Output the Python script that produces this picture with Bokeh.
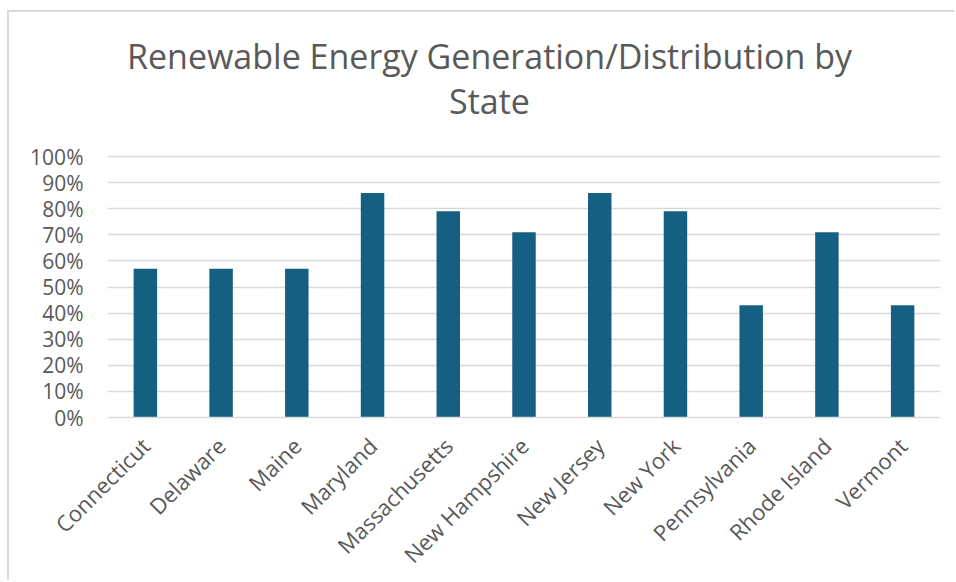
import math

from bokeh.core.properties import value
from bokeh.embed import file_html
from bokeh.models import NumeralTickFormatter, FixedTicker
from bokeh.plotting import figure
from bokeh.resources import INLINE

# Share of renewable generation/distribution criteria met, by state
states = [
    "Connecticut", "Delaware", "Maine", "Maryland", "Massachusetts",
    "New Hampshire", "New Jersey", "New York", "Pennsylvania",
    "Rhode Island", "Vermont",
]
shares = [0.57, 0.57, 0.57, 0.86, 0.79, 0.71, 0.86, 0.79, 0.43, 0.71, 0.43]
y_ticks = [0.0, 0.1, 0.2, 0.3, 0.4, 0.5, 0.6, 0.7, 0.8, 0.9, 1.0]

title_lines = ["Renewable Energy Generation/Distribution by", "State"]

BAR = "#156082"
GRID = "#d9d9d9"
TEXT = "#595959"
FONT = "Open Sans"

# Plot geometry in pixels: the frame runs from the top of the chart box down to
# the 0% line; the value axis occupies the lower 261px (0%..100%), and the space
# above 100% holds the two-line title.
PX_PER_UNIT = 261.0
HEADROOM = 144.0
FRAME_W = 947 - 98 - 16
Y_TOP = 1 + HEADROOM / PX_PER_UNIT

# the chart sits inside a light frame offset 8px from the left, 11px from the top
p = figure(
    width=947, height=570, title=None,
    x_range=states, y_range=(0, Y_TOP),
    output_backend="svg", toolbar_location=None,
    min_border_left=98, min_border_right=16,
    min_border_top=0, min_border_bottom=165,
    background_fill_color="white", border_fill_color="white",
    styles={
        "margin-left": "7px", "margin-top": "10px",
        "border-left": "2px solid #d9d9d9", "border-top": "2px solid #d9d9d9",
    },
)
p.outline_line_color = None

p.vbar(x=states, top=shares, width=0.31, color=BAR, line_color=None)

# axes
p.yaxis.ticker = FixedTicker(ticks=y_ticks)
p.yaxis.formatter = NumeralTickFormatter(format="0%")
p.yaxis.axis_line_color = None
p.yaxis.major_tick_line_color = None
p.yaxis.minor_tick_line_color = None
p.yaxis.major_label_text_font = FONT
p.yaxis.major_label_text_font_size = "21px"
p.yaxis.major_label_text_color = TEXT
p.yaxis.major_label_standoff = 18

p.xaxis.axis_line_color = GRID
p.xaxis.axis_line_width = 1.5
p.xaxis.major_tick_line_color = None
p.xaxis.minor_tick_line_color = None
p.xaxis.major_label_orientation = math.pi / 4
p.xaxis.major_label_text_font = FONT
p.xaxis.major_label_text_font_size = "22px"
p.xaxis.major_label_text_color = TEXT
p.xaxis.major_label_standoff = 18

p.xgrid.grid_line_color = None
p.ygrid.grid_line_color = GRID
p.ygrid.grid_line_width = 1.5

# chart title, centred over the whole chart box (34.5px left of the frame centre);
# the two lines sit 101px and 56px above the 100% line
cat_px = FRAME_W / len(states)
title_x = len(states) / 2 - 34.5 / cat_px
title_rise = [101.0, 56.0]
p.text(
    x=[title_x] * len(title_lines),
    y=[1 + r / PX_PER_UNIT for r in title_rise],
    text=title_lines,
    text_align="center", text_baseline="alphabetic",
    text_font=value(FONT), text_font_size="34px", text_color=TEXT,
)

open("out.html", "w").write(file_html(p, INLINE))
